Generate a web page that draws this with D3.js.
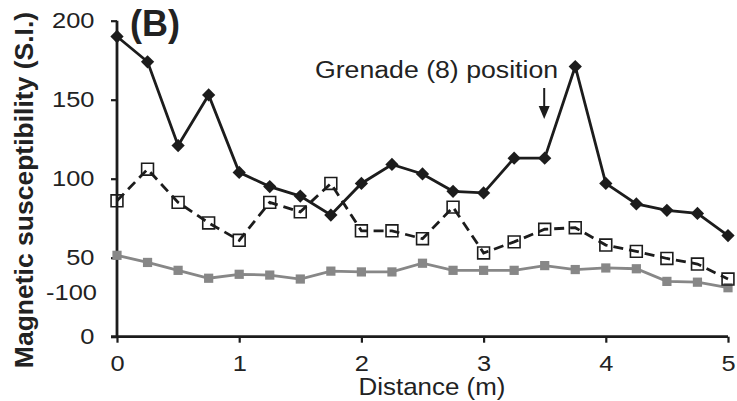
<!DOCTYPE html>
<html>
<head>
<meta charset="utf-8">
<script src="https://cdn.jsdelivr.net/npm/d3@7"></script>
<style>
  html, body { margin: 0; padding: 0; background: #fff; }
  svg { display: block; }
  text { font-family: "Liberation Sans", Arial, Helvetica, sans-serif; fill: #222; }
</style>
</head>
<body>
<svg id="chart" width="737" height="401"></svg>
<script>
// ---- Data ----
const distances = [0, 0.25, 0.5, 0.75, 1, 1.25, 1.5, 1.75, 2, 2.25, 2.5, 2.75, 3, 3.25, 3.5, 3.75, 4, 4.25, 4.5, 4.75, 5];
const seriesDiamond = [190, 174, 121, 153, 104, 95, 89, 77, 97, 109, 103, 92, 91, 113, 113, 171, 97, 84, 80, 78, 64];
const seriesOpenSquare = [86, 106, 85, 72, 61, 85, 79, 97, 67, 67, 62, 82, 53, 60, 68, 69, 58, 54, 49.5, 46, 36.5];
const seriesGraySquare = [51.5, 47, 42, 37, 39.5, 39, 36.5, 41.5, 41, 41, 46.5, 42, 42, 42, 45, 42.5, 43.5, 43, 35, 34.5, 31];
const xTickValues = [0, 1, 2, 3, 4, 5];
const yTickValues = [0, 50, 100, 150, 200];
const yExtraLabel = { text: "-100", value: 28 };
const panelLabel = "(B)";
const annotationText = "Grenade (8) position";
const annotationX = 3.5;
const xAxisTitle = "Distance (m)";
const yAxisTitle = "Magnetic susceptibility (S.I.)";

// ---- Layout ----
const svg = d3.select("#chart");
const x = d3.scaleLinear().domain([0, 5]).range([117, 728]);
const y = d3.scaleLinear().domain([0, 200]).range([336.7, 20.7]);
const ink = "#1c1c1c";
const gray = "#878787";
const sx = 1.13;

// Axes
const yAxis = d3.axisLeft(y).tickValues(yTickValues).tickSize(6).tickPadding(14).tickFormat(d3.format("d"));
const xAxis = d3.axisBottom(x).tickValues(xTickValues).tickSize(6).tickPadding(12).tickFormat(d3.format("d"));

const gy = svg.append("g").attr("transform", `translate(${x(0)},0)`).call(yAxis);
const gx = svg.append("g").attr("transform", `translate(0,${y(0)})`).call(xAxis);

[gx, gy].forEach(g => {
  g.select(".domain").attr("stroke", ink).attr("stroke-width", 2.8);
  g.selectAll(".tick line").attr("stroke", ink).attr("stroke-width", 2.2);
  g.selectAll(".tick text").attr("font-size", 22.5).attr("fill", "#222")
    .style("font-family", '"Liberation Sans", Arial, sans-serif');
});
gy.select(".domain").attr("d", `M0,${y(200)}V${y(0)}`);
gx.select(".domain").attr("d", `M${x(0) - 6},0H${x(5)}`);
gy.selectAll(".tick text").attr("transform", `scale(${sx},1)`);
gx.selectAll(".tick text").attr("transform", `scale(${sx},1)`).attr("dy", "0.71em");

// Extra "-100" label (no tick mark)
svg.append("text")
  .attr("transform", `translate(${x(0) - 20},${y(yExtraLabel.value)}) scale(${sx},1)`)
  .attr("text-anchor", "end").attr("dy", "0.32em").attr("font-size", 22.5)
  .text(yExtraLabel.text);

const pts = s => distances.map((d, i) => [d, s[i]]);
const line = d3.line().x(d => x(d[0])).y(d => y(d[1]));

// Gray series
svg.append("path").datum(pts(seriesGraySquare)).attr("d", line)
  .attr("fill", "none").attr("stroke", gray).attr("stroke-width", 2.8);
svg.append("g").selectAll("path").data(pts(seriesGraySquare)).join("path")
  .attr("transform", d => `translate(${x(d[0])},${y(d[1])})`)
  .attr("d", d3.symbol(d3.symbolSquare, 85))
  .attr("fill", gray);

// Dashed open-square series
svg.append("path").datum(pts(seriesOpenSquare)).attr("d", line)
  .attr("fill", "none").attr("stroke", ink).attr("stroke-width", 2.8)
  .attr("stroke-dasharray", "10,6");
svg.append("g").selectAll("path").data(pts(seriesOpenSquare)).join("path")
  .attr("transform", d => `translate(${x(d[0])},${y(d[1])})`)
  .attr("d", d3.symbol(d3.symbolSquare, 140))
  .attr("fill", "none").attr("stroke", ink).attr("stroke-width", 1.6);

// Diamond series
svg.append("path").datum(pts(seriesDiamond)).attr("d", line)
  .attr("fill", "none").attr("stroke", ink).attr("stroke-width", 2.8);
svg.append("g").selectAll("path").data(pts(seriesDiamond)).join("path")
  .attr("transform", d => `translate(${x(d[0])},${y(d[1])}) rotate(45)`)
  .attr("d", d3.symbol(d3.symbolSquare, 88))
  .attr("fill", ink);

// Panel label
svg.append("text").attr("x", 130).attr("y", 36)
  .attr("font-size", 36).attr("font-weight", "bold").text(panelLabel);

// Annotation
svg.append("text")
  .attr("transform", `translate(315,78) scale(1.16,1)`)
  .attr("font-size", 23).text(annotationText);
const ax = x(annotationX) - 0.5;
svg.append("line").attr("x1", ax).attr("x2", ax).attr("y1", 88).attr("y2", 108)
  .attr("stroke", ink).attr("stroke-width", 2);
svg.append("path")
  .attr("d", `M${ax - 5.5},106 L${ax + 5.5},106 L${ax},119 Z`)
  .attr("fill", ink);

// Axis titles
svg.append("text")
  .attr("transform", `translate(432,395) scale(1.08,1)`)
  .attr("text-anchor", "middle").attr("font-size", 24).text(xAxisTitle);
svg.append("text")
  .attr("transform", `translate(33,190) rotate(-90)`)
  .attr("text-anchor", "middle").attr("font-size", 26.5).attr("font-weight", "bold")
  .text(yAxisTitle);
</script>
</body>
</html>
